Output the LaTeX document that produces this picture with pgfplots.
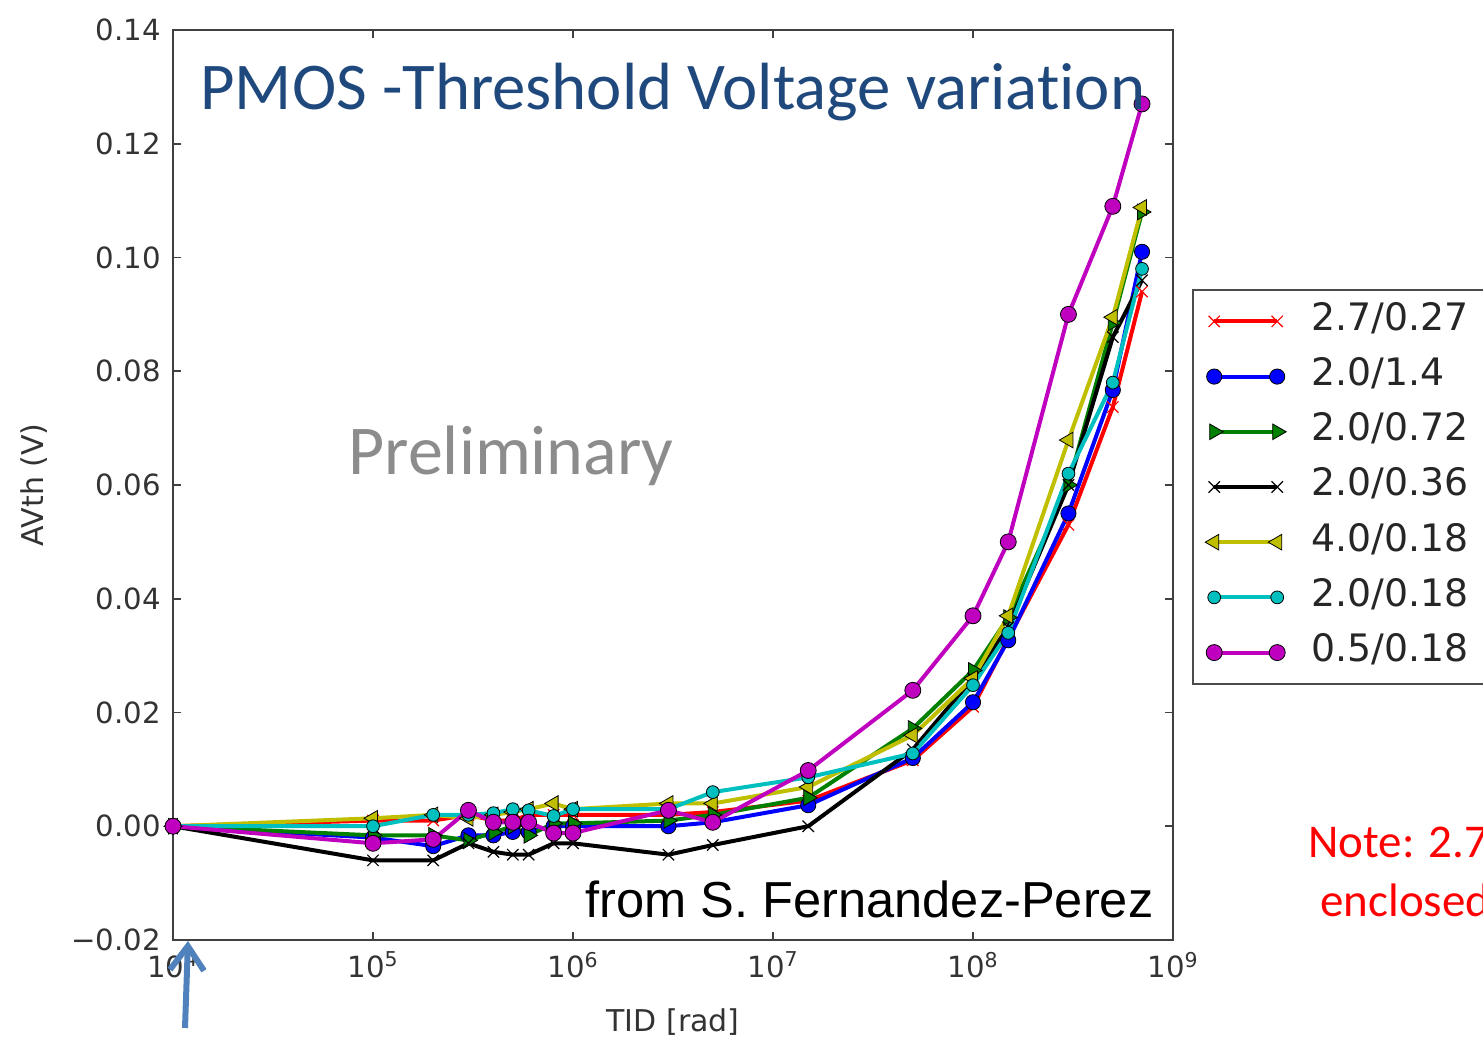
\documentclass[border=0pt]{standalone}
\usepackage{fontspec}
\setmainfont{DejaVu Sans}
\newfontfamily\calibri[RawFeature=-liga]{Carlito}
\newfontfamily\arial{Liberation Sans}
\usepackage{pgfplots}
\pgfplotsset{compat=1.18}
\usetikzlibrary{arrows.meta}

\definecolor{mred}{rgb}{1,0,0}
\definecolor{mblue}{rgb}{0,0,1}
\definecolor{mgreen}{rgb}{0,0.5,0}
\definecolor{myellow}{rgb}{0.75,0.75,0}
\definecolor{mcyan}{rgb}{0,0.75,0.75}
\definecolor{mmagenta}{rgb}{0.75,0,0.75}
\definecolor{titleblue}{HTML}{1F497D}
\definecolor{arrowblue}{HTML}{4F81BD}

\begin{document}
\begin{tikzpicture}
\useasboundingbox (0,0) rectangle (741.5pt,518.5pt);
\clip (0,0) rectangle (741.5pt,518.5pt);
\begin{axis}[
  at={(86.5pt,48.5pt)}, anchor=south west,
  scale only axis, width=500pt, height=455pt,
  xmode=log, log basis x=10,
  xmin=1e4, xmax=1e9, ymin=-0.02, ymax=0.14,
  xtick={1e4,1e5,1e6,1e7,1e8,1e9},
  xticklabels={10\textsuperscript{4},10\textsuperscript{5},10\textsuperscript{6},10\textsuperscript{7},10\textsuperscript{8},10\textsuperscript{9}},
  ytick={-0.02,0,0.02,0.04,0.06,0.08,0.10,0.12,0.14},
  yticklabels={−0.02,0.00,0.02,0.04,0.06,0.08,0.10,0.12,0.14},
  tick align=inside, major tick length=4pt, minor tick length=2pt,
  axis line style={black!75, line width=1.2pt},
  every tick/.style={black!75, line width=0.8pt},
  tick label style={font=\fontsize{14.6}{17}\selectfont, text=black!80},
  yticklabel style={xshift=-2.5pt},
  xticklabel style={yshift=-2.5pt},
  xlabel={TID [rad]}, ylabel={AVth (V)},
  label style={font=\fontsize{15}{18}\selectfont, text=black!80},
  xlabel style={yshift=-8.5pt},
  ylabel style={yshift=5pt},
  legend style={at={(1.019,0.28)}, anchor=south west, draw=black!70,
    line width=1.2pt, fill=white, font=\fontsize{18.9}{22}\selectfont,
    text=black!85, inner xsep=6pt, inner ysep=7.2pt, row sep=10.6pt,
    nodes={inner sep=0pt, text height=13pt, text depth=4pt}},
  legend cell align=left,
  legend image code/.code={%
    \draw[#1] plot coordinates {(0pt,0pt) (31.5pt,0pt)};
    \path (47.5pt,0pt);},
  every axis plot/.append style={line width=2pt},
]
% 2.7/0.27
\addplot[color=mred, mark=x, mark size=4pt, mark options={line width=0.6pt}] coordinates {
 (1e4,0) (1e5,0.001) (2e5,0.001) (3e5,0.002) (4e5,0.001) (5e5,0.001) (6e5,0.002)
 (8e5,0.002) (1e6,0.002) (3e6,0.002) (5e6,0.0025) (1.5e7,0.0045) (5e7,0.0116)
 (1e8,0.021) (1.5e8,0.033) (3e8,0.053) (5e8,0.0737) (7e8,0.094)};
\addlegendentry{2.7/0.27\rule{16pt}{0pt}}
% 2.0/1.4
\addplot[color=mblue, mark=*, mark size=3.8pt, mark options={fill=mblue, draw=black, line width=0.4pt}] coordinates {
 (1e4,0) (1e5,-0.002) (2e5,-0.0035) (3e5,-0.0016) (4e5,-0.0016) (5e5,-0.001) (6e5,-0.001)
 (8e5,0) (1e6,0) (3e6,0) (5e6,0.0007) (1.5e7,0.0037) (5e7,0.012)
 (1e8,0.0218) (1.5e8,0.0327) (3e8,0.055) (5e8,0.0767) (7e8,0.101)};
\addlegendentry{2.0/1.4}
% 2.0/0.72
\addplot[color=mgreen, mark=triangle*, mark size=4.5pt, mark options={rotate=-90, fill=mgreen, draw=black, line width=0.4pt}] coordinates {
 (1e4,0) (1e5,-0.0016) (2e5,-0.0016) (3e5,-0.0025) (4e5,-0.0011) (5e5,0) (6e5,-0.0016)
 (8e5,0.0005) (1e6,0.0005) (3e6,0.001) (5e6,0.002) (1.5e7,0.005) (5e7,0.0172)
 (1e8,0.0274) (1.5e8,0.0367) (3e8,0.060) (5e8,0.0885) (7e8,0.108)};
\addlegendentry{2.0/0.72}
% 2.0/0.36
\addplot[color=black, mark=x, mark size=4pt, mark options={line width=0.6pt}] coordinates {
 (1e4,0) (1e5,-0.006) (2e5,-0.006) (3e5,-0.003) (4e5,-0.0045) (5e5,-0.005) (6e5,-0.005)
 (8e5,-0.003) (1e6,-0.003) (3e6,-0.005) (5e6,-0.0033) (1.5e7,0) (5e7,0.0135)
 (1e8,0.026) (1.5e8,0.035) (3e8,0.060) (5e8,0.086) (7e8,0.096)};
\addlegendentry{2.0/0.36}
% 4.0/0.18
\addplot[color=myellow, mark=triangle*, mark size=4.5pt, mark options={rotate=90, fill=myellow, draw=black, line width=0.4pt}] coordinates {
 (1e4,0) (1e5,0.0014) (2e5,0.002) (3e5,0.0014) (4e5,0.002) (5e5,0.0025) (6e5,0.003)
 (8e5,0.004) (1e6,0.003) (3e6,0.004) (5e6,0.004) (1.5e7,0.0069) (5e7,0.016)
 (1e8,0.026) (1.5e8,0.037) (3e8,0.0679) (5e8,0.0895) (7e8,0.1088)};
\addlegendentry{4.0/0.18}
% 2.0/0.18
\addplot[color=mcyan, mark=*, mark size=3.2pt, mark options={fill=mcyan, draw=black, line width=0.4pt}] coordinates {
 (1e4,0) (1e5,0) (2e5,0.002) (3e5,0.002) (4e5,0.0023) (5e5,0.003) (6e5,0.0028)
 (8e5,0.0018) (1e6,0.003) (3e6,0.003) (5e6,0.006) (1.5e7,0.0086) (5e7,0.0128)
 (1e8,0.0248) (1.5e8,0.034) (3e8,0.062) (5e8,0.078) (7e8,0.098)};
\addlegendentry{2.0/0.18}
% 0.5/0.18
\addplot[color=mmagenta, mark=*, mark size=4pt, mark options={fill=mmagenta, draw=black, line width=0.4pt}] coordinates {
 (1e4,0) (1e5,-0.003) (2e5,-0.0023) (3e5,0.0028) (4e5,0.0007) (5e5,0.0007) (6e5,0.0007)
 (8e5,-0.0012) (1e6,-0.0012) (3e6,0.0028) (5e6,0.0007) (1.5e7,0.0098) (5e7,0.0239)
 (1e8,0.037) (1.5e8,0.050) (3e8,0.090) (5e8,0.109) (7e8,0.127)};
\addlegendentry{0.5/0.18}
\end{axis}

\node[anchor=base west, inner sep=0pt, text=titleblue, font=\calibri\fontsize{33.4}{38}\selectfont]
  at (100pt,463.5pt) {PMOS -Threshold Voltage variation};
\node[anchor=base west, inner sep=0pt, text=black!45, font=\calibri\fontsize{35}{40}\selectfont]
  at (174pt,281pt) {Preliminary};
\node[anchor=base west, inner sep=0pt, text=black, font=\arial\fontsize{25.3}{30}\selectfont]
  at (292.5pt,59.5pt) {from S. Fernandez-Perez};
\node[anchor=base west, inner sep=0pt, text=red, font=\calibri\fontsize{23.5}{28}\selectfont]
  at (654pt,89.5pt) {Note: 2.7/0.27 is an};
\node[anchor=base west, inner sep=0pt, text=red, font=\calibri\fontsize{23.5}{28}\selectfont]
  at (660pt,60pt) {enclosed layout};
\draw[arrowblue, line width=3pt, -{Straight Barb[length=12pt,width=17pt,line width=3pt]}]
  (92.5pt,4.5pt) -- (94pt,48pt);
\end{tikzpicture}
\end{document}
